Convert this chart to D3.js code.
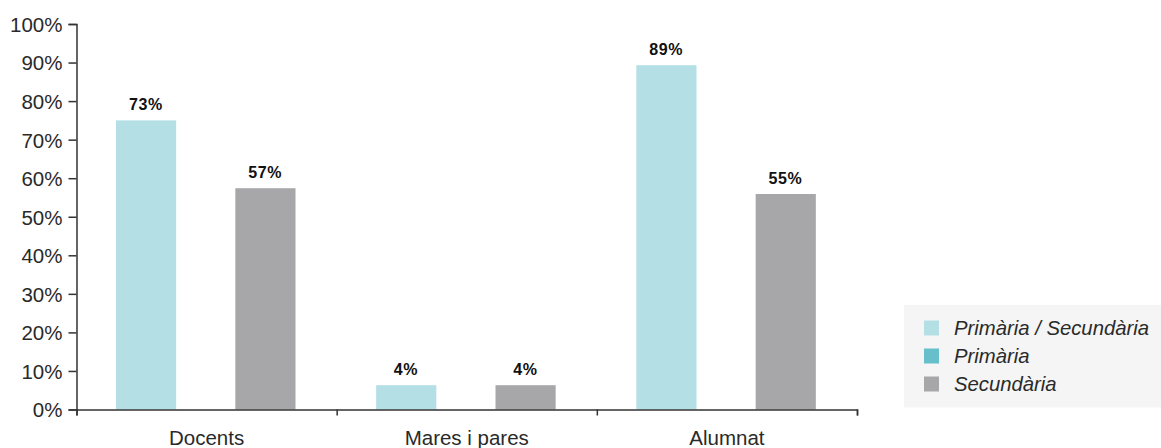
<!DOCTYPE html>
<html>
<head>
<meta charset="utf-8">
<script src="https://cdn.jsdelivr.net/npm/d3@7"></script>
<style>
  body { margin: 0; background: #fff; }
  svg { display: block; font-family: "Liberation Sans", Arial, sans-serif; }
</style>
</head>
<body>
<svg id="chart" width="1161" height="448"></svg>
<script>
// Data
const categories = ["Docents", "Mares i pares", "Alumnat"];
const seriesNames = ["Primària / Secundària", "Primària", "Secundària"];
const seriesColors = ["#b3dfe5", "#66bfcb", "#a7a7a9"];
// printed labels
const primSecLabels = [73, 4, 89];
const primariaLabels = [null, null, null];
const secundariaLabels = [57, 4, 55];
// drawn bar heights (bars in the original are not exactly at their labels)
const primSecHeights = [75.0, 6.3, 89.3];
const primariaHeights = [null, null, null];
const secundariaHeights = [57.4, 6.3, 55.9];
const yTicks = [0, 10, 20, 30, 40, 50, 60, 70, 80, 90, 100];

const series = [
  { name: seriesNames[0], color: seriesColors[0], heights: primSecHeights, labels: primSecLabels },
  { name: seriesNames[1], color: seriesColors[1], heights: primariaHeights, labels: primariaLabels },
  { name: seriesNames[2], color: seriesColors[2], heights: secundariaHeights, labels: secundariaLabels }
];

const svg = d3.select("#chart");

// plot area
const x0 = 76.5, x1 = 857, yTop = 24, yBottom = 409.5;

const y = d3.scaleLinear().domain([0, 100]).range([yBottom, yTop]);
const x = d3.scaleBand().domain(categories).range([x0, x1]).padding(0);
const xSub = d3.scaleBand().domain(seriesNames).range([0, 179]).padding(0);
const subOffset = 39.5;

// y axis
const yAxis = svg.append("g")
  .attr("transform", `translate(${x0},0)`)
  .call(d3.axisLeft(y).tickValues(yTicks).tickSize(8).tickPadding(6).tickFormat(d => d + "%"));
yAxis.select(".domain").attr("stroke", "#333").attr("stroke-width", 1.5);
yAxis.selectAll(".tick line").attr("stroke", "#333").attr("stroke-width", 1.5);
yAxis.selectAll(".tick text")
  .attr("font-size", 20.5)
  .attr("fill", "#2a2a2a")
  .attr("font-family", "Liberation Sans, Arial, sans-serif")
  .attr("dy", "0.36em");

// bars
const groups = svg.append("g").selectAll("g")
  .data(categories)
  .join("g")
  .attr("transform", d => `translate(${x(d) + subOffset},0)`);

series.forEach(s => {
  groups.each(function(cat, i) {
    const h = s.heights[i];
    if (h == null) return;
    const g = d3.select(this);
    g.append("rect")
      .attr("x", xSub(s.name))
      .attr("width", xSub.bandwidth() + 0.5)
      .attr("y", y(h))
      .attr("height", y(0) - y(h))
      .attr("fill", s.color);
    g.append("text")
      .attr("x", xSub(s.name) + xSub.bandwidth() / 2)
      .attr("y", y(h) - 10.5)
      .attr("text-anchor", "middle")
      .attr("font-size", 16)
      .attr("font-weight", "bold")
      .attr("letter-spacing", 0.6)
      .attr("fill", "#111")
      .text(s.labels[i] + "%");
  });
});

// x axis
const xAxisScale = d3.scaleLinear().domain([0, categories.length]).range([x0, x1]);
const xAxis = svg.append("g")
  .attr("transform", `translate(0,${yBottom})`)
  .call(d3.axisBottom(xAxisScale).tickValues(d3.range(categories.length + 1)).tickSize(6).tickFormat(""));
xAxis.select(".domain").attr("stroke", "#333").attr("stroke-width", 1.5);
xAxis.selectAll(".tick line").attr("stroke", "#333").attr("stroke-width", 1.5);

svg.append("g").selectAll("text")
  .data(categories)
  .join("text")
  .attr("x", d => x(d) + x.bandwidth() / 2)
  .attr("y", 445)
  .attr("text-anchor", "middle")
  .attr("font-size", 20.5)
  .attr("fill", "#2a2a2a")
  .text(d => d);

// legend
const legend = svg.append("g").attr("transform", "translate(904,305)");
legend.append("rect")
  .attr("width", 257)
  .attr("height", 102.5)
  .attr("fill", "#f4f5f4");
const items = legend.selectAll("g.item")
  .data(series)
  .join("g")
  .attr("class", "item")
  .attr("transform", (d, i) => `translate(20,${23 + i * 28})`);
items.append("rect")
  .attr("y", -7.5)
  .attr("width", 15)
  .attr("height", 15)
  .attr("fill", d => d.color);
items.append("text")
  .attr("x", 30)
  .attr("dy", "0.36em")
  .attr("font-size", 20.3)
  .attr("font-style", "italic")
  .attr("fill", "#2a2a2a")
  .text(d => d.name);
</script>
</body>
</html>
